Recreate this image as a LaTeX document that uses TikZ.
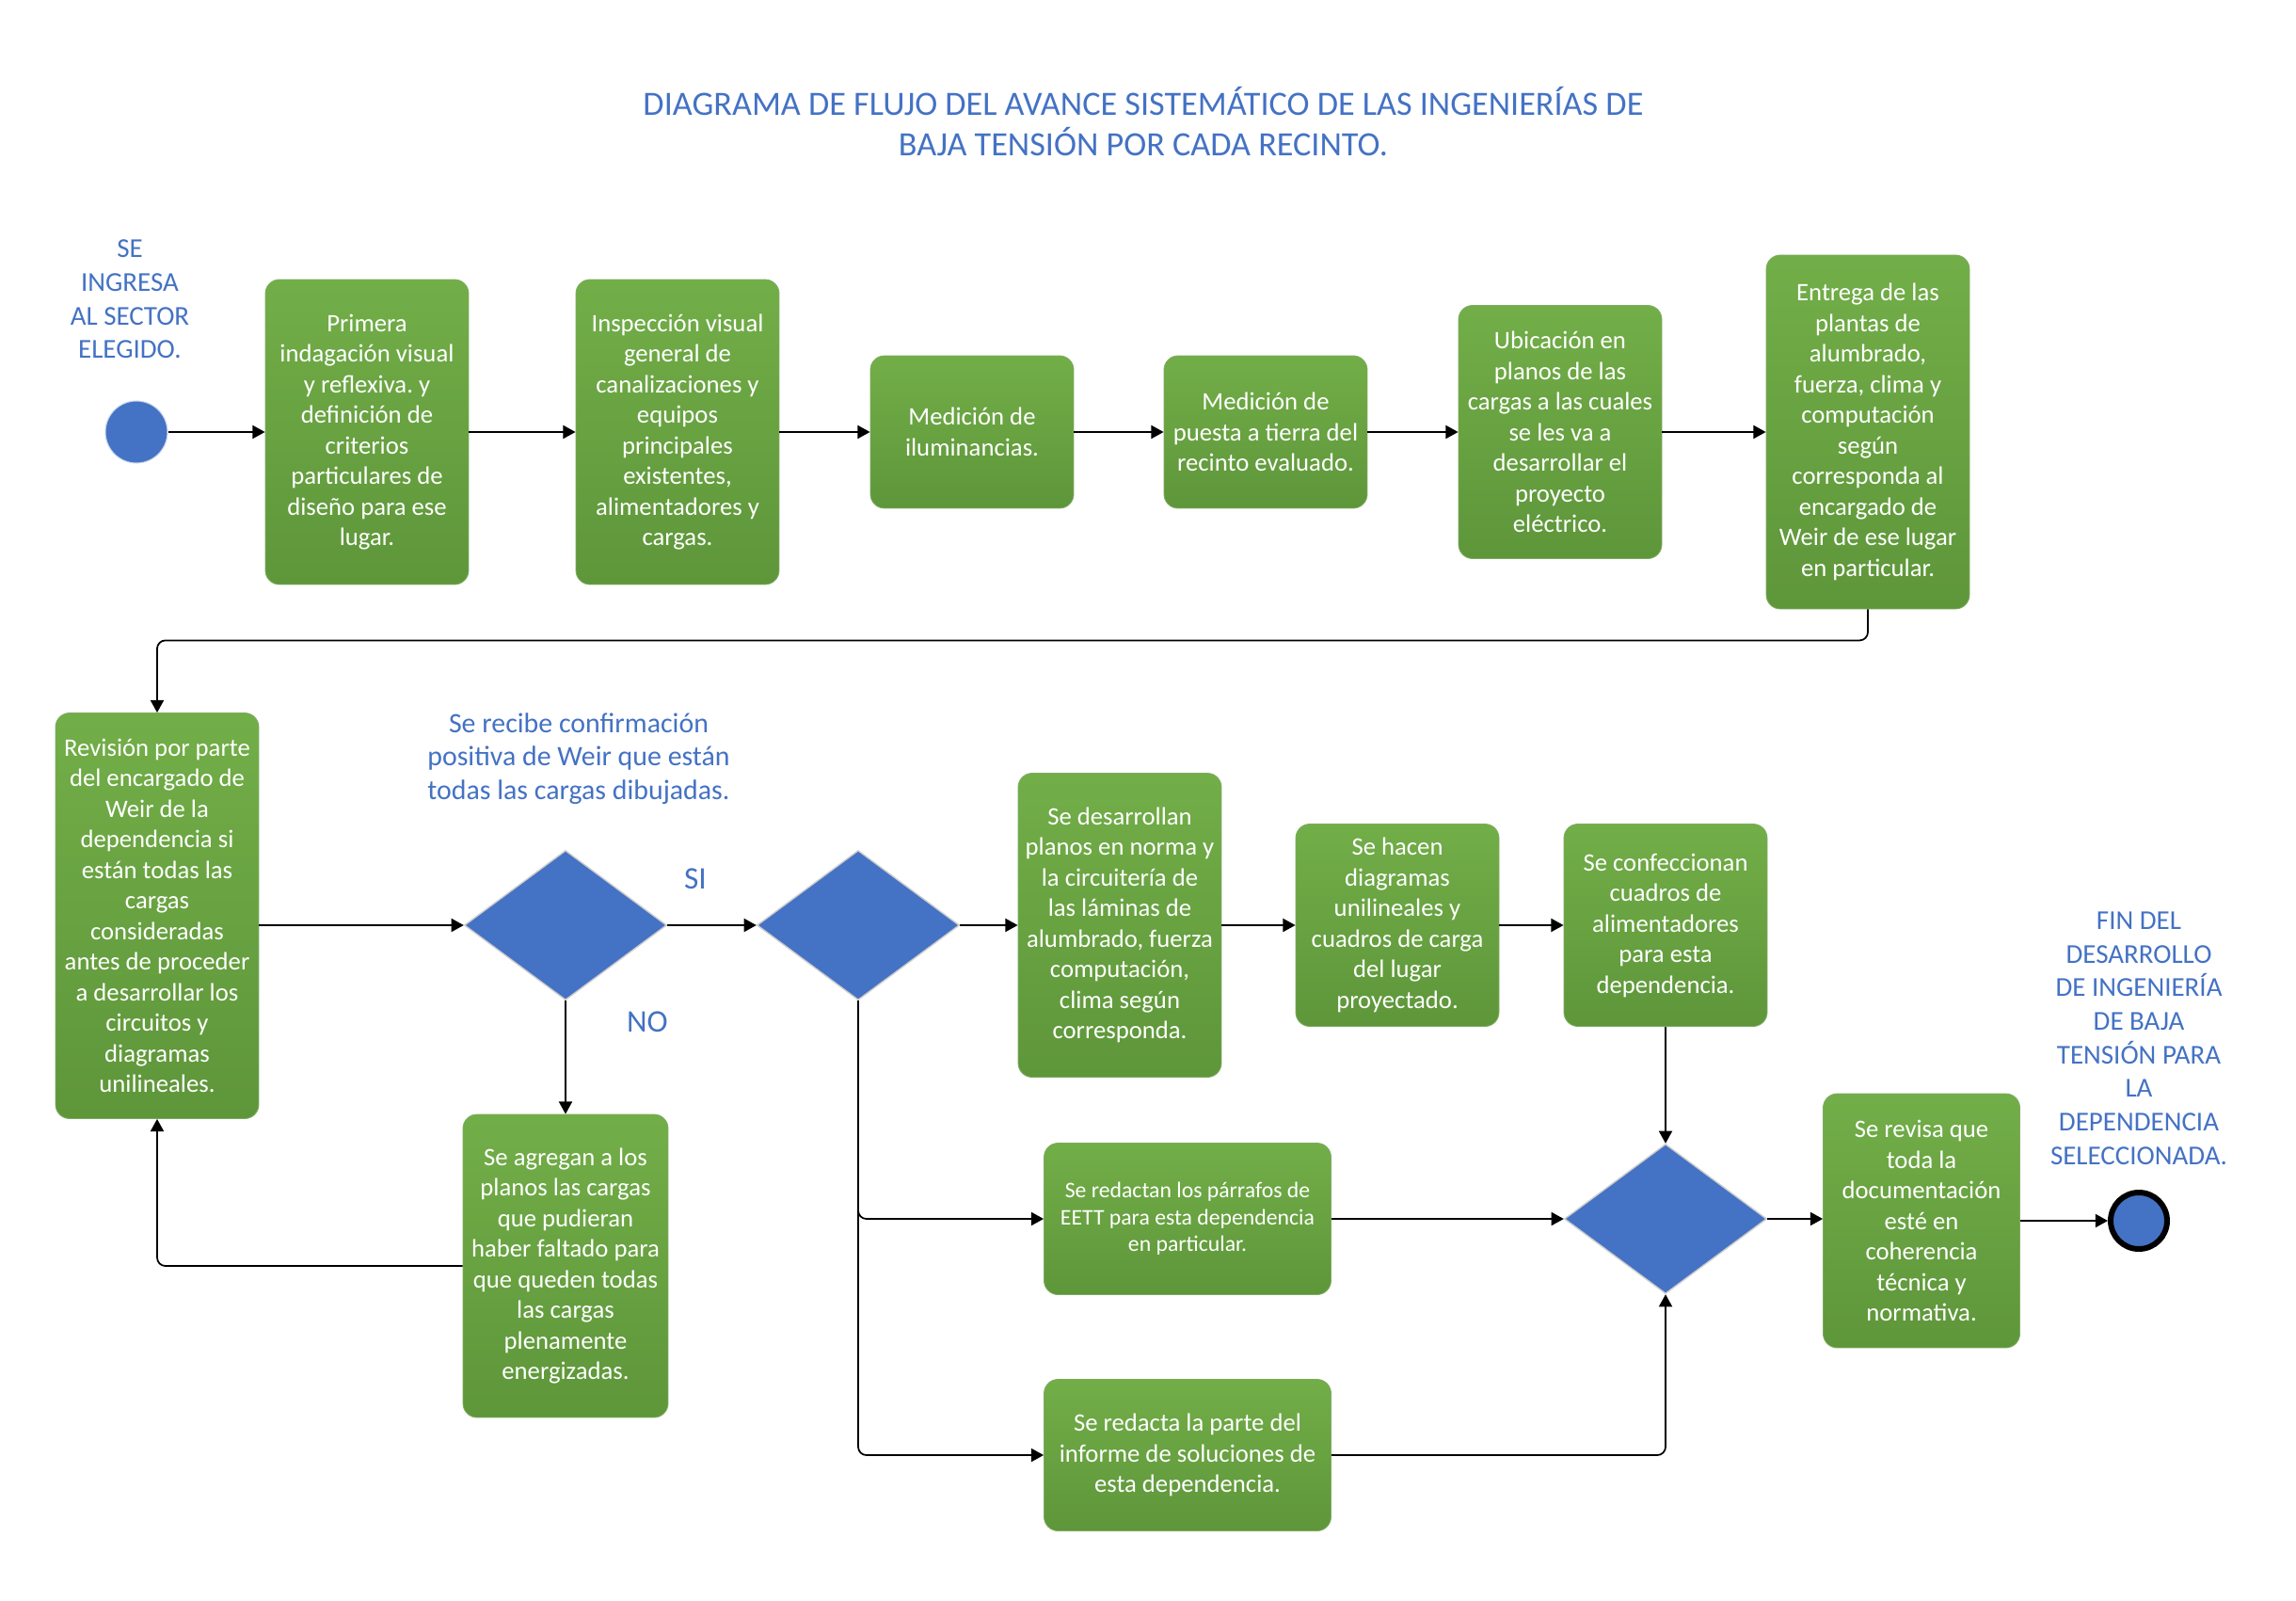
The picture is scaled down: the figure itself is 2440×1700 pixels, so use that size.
\documentclass[tikz,border=0pt]{standalone}
\usepackage{fontspec}
\setmainfont{Carlito}
\frenchspacing
\usetikzlibrary{shapes.geometric,arrows.meta,positioning,calc}
\definecolor{boxTop}{RGB}{114,174,72}
\definecolor{boxBot}{RGB}{94,150,58}
\definecolor{decBlue}{RGB}{68,114,196}
\definecolor{noteBlue}{RGB}{68,114,196}
\tikzset{
  stepbox/.style={draw=boxBot!80!white,line width=0.5pt,rounded corners=8.5pt,
                  top color=boxTop,bottom color=boxBot,text=white,align=center,
                  minimum width=4.32cm,inner sep=1pt,font=\fontsize{15.2}{18.5}\selectfont},
  dec/.style={draw=gray!40,diamond,fill=decBlue,minimum width=4.3cm,minimum height=3.18cm,
              inner sep=0pt,line width=0.8pt},
  note/.style={text=noteBlue,align=center,font=\fontsize{16.5}{20.3}\selectfont},
  arr/.style={-{Triangle[length=7.5pt,width=8pt]},line width=1pt},
}

\begin{document}
\begin{tikzpicture}[x=0.02cm,y=-0.02cm]
  \useasboundingbox (0,0) rectangle (2440,1700);

  \node[note,font=\fontsize{20.6}{24.7}\selectfont] (titulo) at (1215,129)
    {DIAGRAMA DE FLUJO DEL AVANCE SISTEMÁTICO DE LAS INGENIERÍAS DE\\BAJA TENSIÓN POR CADA RECINTO.};

  % fila superior
  \node[note] (ingresa) at (138,318) {SE\\INGRESA\\AL SECTOR\\ELEGIDO.};
  \node[circle,fill=decBlue,draw=decBlue!30,line width=0.6pt,minimum size=1.32cm] (inicio) at (145,459) {};
  \node[stepbox,minimum height=6.48cm] (primera) at (390,459)
    {Primera\\indagación visual\\y reflexiva. y\\definición de\\criterios\\particulares de\\diseño para ese\\lugar.};
  \node[stepbox,minimum height=6.48cm] (inspeccion) at (720,459)
    {Inspección visual\\general de\\canalizaciones y\\equipos\\principales\\existentes,\\alimentadores y\\cargas.};
  \node[stepbox,minimum height=3.24cm] (iluminancia) at (1033,459) {Medición de\\iluminancias.};
  \node[stepbox,minimum height=3.24cm] (tierra) at (1345,459)
    {Medición de\\puesta a tierra del\\recinto evaluado.};
  \node[stepbox,minimum height=5.38cm] (ubicacion) at (1658,459)
    {Ubicación en\\planos de las\\cargas a las cuales\\se les va a\\desarrollar el\\proyecto\\eléctrico.};
  \node[stepbox,minimum height=7.52cm] (entrega) at (1985,459)
    {Entrega de las\\plantas de\\alumbrado,\\fuerza, clima y\\computación\\según\\corresponda al\\encargado de\\Weir de ese lugar\\en particular.};

  % revision y decision
  \node[stepbox,minimum height=8.62cm] (revision) at (167,973)
    {Revisión por parte\\del encargado de\\Weir de la\\dependencia si\\están todas las\\cargas\\consideradas\\antes de proceder\\a desarrollar los\\circuitos y\\diagramas\\unilineales.};
  \node[note,font=\fontsize{17}{20.3}\selectfont] (confTxt) at (615,806)
    {Se recibe confirmación\\positiva de Weir que están\\todas las cargas dibujadas.};
  \node[dec] (conf) at (601,983) {};
  \node[dec] (filtro) at (912,983) {};
  \node[note,font=\fontsize{19}{23}\selectfont] (si) at (739,934) {SI};
  \node[note,font=\fontsize{19}{23}\selectfont] (no) at (688,1086) {NO};
  \node[stepbox,minimum width=4.36cm,minimum height=6.44cm] (agregan) at (601,1345)
    {Se agregan a los\\planos las cargas\\que pudieran\\haber faltado para\\que queden todas\\las cargas\\plenamente\\energizadas.};

  % desarrollo
  \node[stepbox,minimum height=6.46cm] (planos) at (1190,983)
    {Se desarrollan\\planos en norma y\\la circuitería de\\las láminas de\\alumbrado, fuerza\\computación,\\clima según\\corresponda.};
  \node[stepbox,minimum height=4.3cm] (unilineal) at (1485,983)
    {Se hacen\\diagramas\\unilineales y\\cuadros de carga\\del lugar\\proyectado.};
  \node[stepbox,minimum height=4.3cm] (cuadros) at (1770,983)
    {Se confeccionan\\cuadros de\\alimentadores\\para esta\\dependencia.};
  \node[stepbox,minimum width=6.1cm,minimum height=3.22cm,font=\fontsize{13.5}{16.3}\selectfont] (eett) at (1262,1295)
    {Se redactan los párrafos de\\EETT para esta dependencia\\en particular.};
  \node[stepbox,minimum width=6.1cm,minimum height=3.22cm] (informe) at (1262,1546)
    {Se redacta la parte del\\informe de soluciones de\\esta dependencia.};
  \node[dec] (union) at (1770,1295) {};
  \node[stepbox,minimum width=4.18cm,minimum height=5.4cm] (revisa) at (2042,1297)
    {Se revisa que\\toda la\\documentación\\esté en\\coherencia\\técnica y\\normativa.};

  % fin
  \node[note] (finTxt) at (2273,1103)
    {FIN DEL\\DESARROLLO\\DE INGENIERÍA\\DE BAJA\\TENSIÓN PARA\\LA\\DEPENDENCIA\\SELECCIONADA.};
  \node[circle,fill=decBlue,draw=black,line width=3.4pt,minimum size=1.2cm] (fin) at (2273,1297) {};

  % conectores
  \draw[arr] (inicio) -- (primera);
  \draw[arr] (primera) -- (inspeccion);
  \draw[arr] (inspeccion) -- (iluminancia);
  \draw[arr] (iluminancia) -- (tierra);
  \draw[arr] (tierra) -- (ubicacion);
  \draw[arr] (ubicacion) -- (entrega);
  \draw[arr,rounded corners=5pt] (entrega.south) -- ++(0,33) -| (revision.north);
  \draw[arr] (revision.east |- conf.west) -- (conf.west);
  \draw[arr] (conf.east) -- (filtro.west);
  \draw[arr] (conf.south) -- (agregan.north);
  \draw[arr,rounded corners=5pt] (agregan.west) -| (revision.south);
  \draw[arr] (filtro.east) -- (planos.west);
  \draw[arr] (planos) -- (unilineal);
  \draw[arr] (unilineal) -- (cuadros);
  \draw[arr] (cuadros.south) -- (union.north);
  \draw[arr,rounded corners=5pt] (filtro.south) |- (eett.west);
  \draw[arr,rounded corners=5pt] (filtro.south) |- (informe.west);
  \draw[arr] (eett.east) -- (union.west);
  \draw[arr,rounded corners=5pt] (informe.east) -| (union.south);
  \draw[arr] (union.east) -- (revisa.west |- union.east);
  \draw[arr] (revisa) -- (fin);
\end{tikzpicture}
\end{document}
